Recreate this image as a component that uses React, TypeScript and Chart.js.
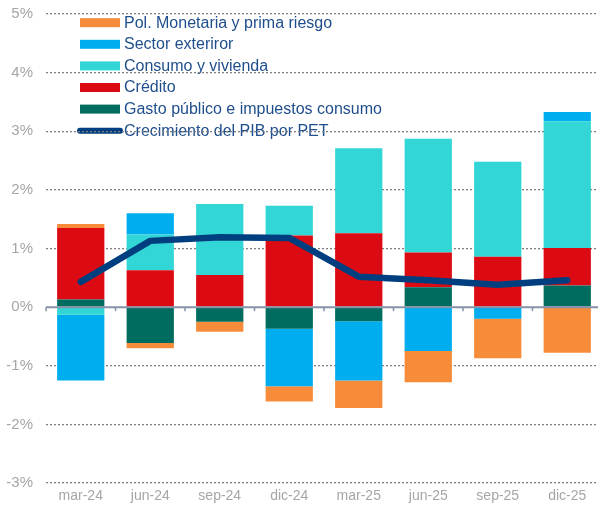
import React, { useEffect, useRef } from "react";
import { Chart, registerables } from "chart.js";

Chart.register(...registerables);

const categories = ["mar-24", "jun-24", "sep-24", "dic-24", "mar-25", "jun-25", "sep-25", "dic-25"];
const gastoPublico = [0.13, -0.61, -0.25, -0.37, -0.24, 0.34, 0.0, 0.37];
const credito = [1.22, 0.63, 0.55, 1.22, 1.26, 0.59, 0.86, 0.64];
const consumoVivienda = [-0.13, 0.61, 1.21, 0.51, 1.45, 1.94, 1.62, 2.16];
const sectorExterior = [-1.12, 0.36, 0.0, -0.98, -1.01, -0.75, -0.2, 0.16];
const polMonetaria = [0.07, -0.09, -0.17, -0.26, -0.47, -0.53, -0.67, -0.78];
const pibPET = [0.43, 1.13, 1.19, 1.18, 0.52, 0.46, 0.38, 0.46];
const yTicks = [-3, -2, -1, 0, 1, 2, 3, 4, 5];

const COLORS = {
  gasto: "#006B5F",
  credito: "#DC0A12",
  consumo: "#33D6D6",
  sector: "#00AEEF",
  pol: "#F68B39",
  line: "#003F7F",
};

const FONT = "'Liberation Sans', Arial, sans-serif";

const legendPlugin = {
  id: "customLegend",
  beforeDraw(chart: any) {
    const ctx = chart.ctx;
    const ds = chart.data.datasets;
    // legend order: Pol, Sector, Consumo, Crédito, Gasto, Línea
    const order = [4, 3, 2, 1, 0, 5];
    const x0 = 80;
    const y0 = 22.7;
    const step = 21.6;
    ctx.save();
    ctx.font = `16px ${FONT}`;
    ctx.textBaseline = "middle";
    ctx.textAlign = "left";
    order.forEach((idx: number, i: number) => {
      const d = ds[idx];
      const yc = y0 + i * step;
      if (d.type === "line") {
        ctx.strokeStyle = d.borderColor;
        ctx.lineWidth = 6;
        ctx.lineCap = "round";
        ctx.beginPath();
        ctx.moveTo(x0, yc);
        ctx.lineTo(x0 + 40, yc);
        ctx.stroke();
      } else {
        ctx.fillStyle = d.backgroundColor;
        ctx.fillRect(x0, yc - 4.5, 40, 9);
      }
      ctx.fillStyle = "#1F4E8C";
      ctx.fillText(d.label, x0 + 44, yc + 0.5);
    });
    ctx.restore();
  },
};

const zeroLinePlugin = {
  id: "zeroLine",
  afterDatasetsDraw(chart: any) {
    const ctx = chart.ctx;
    const y = chart.scales.y.getPixelForValue(0);
    const xs = chart.scales.x;
    const { left, right } = chart.chartArea;
    const w = xs.getPixelForValue(1) - xs.getPixelForValue(0);
    ctx.save();
    ctx.strokeStyle = "#8592A8";
    ctx.lineWidth = 2;
    ctx.beginPath();
    ctx.moveTo(left, y);
    ctx.lineTo(right, y);
    ctx.stroke();
    ctx.lineWidth = 1.5;
    for (let i = 0; i <= categories.length; i++) {
      const x = xs.getPixelForValue(0) - w / 2 + i * w;
      ctx.beginPath();
      ctx.moveTo(x, y);
      ctx.lineTo(x, y + 4);
      ctx.stroke();
    }
    ctx.restore();
  },
};

export default function App() {
  const ref = useRef<HTMLCanvasElement>(null);
  useEffect(() => {
    if (!ref.current) return;
    Chart.defaults.font.family = FONT;
    const bar = (label: string, data: number[], color: string) => ({
      type: "bar" as const,
      label,
      data,
      backgroundColor: color,
      borderWidth: 0,
      stack: "a",
      order: 1,
      barPercentage: 0.68,
      categoryPercentage: 1,
    });
    const chart = new Chart(ref.current, {
      type: "bar",
      data: {
        labels: categories,
        datasets: [
          bar("Gasto público e impuestos consumo", gastoPublico, COLORS.gasto),
          bar("Crédito", credito, COLORS.credito),
          bar("Consumo y vivienda", consumoVivienda, COLORS.consumo),
          bar("Sector exteriror", sectorExterior, COLORS.sector),
          bar("Pol. Monetaria y prima riesgo", polMonetaria, COLORS.pol),
          {
            type: "line" as const,
            label: "Crecimiento del PIB por PET",
            data: pibPET,
            borderColor: COLORS.line,
            backgroundColor: COLORS.line,
            borderWidth: 6.5,
            pointRadius: 0,
            borderCapStyle: "round",
            borderJoinStyle: "round",
            tension: 0,
            stack: "line",
            order: 0,
          } as any,
        ],
      },
      options: {
        animation: false,
        responsive: false,
        devicePixelRatio: 1,
        layout: { autoPadding: false, padding: { top: 14, left: 0, right: 0, bottom: 0 } },
        plugins: {
          legend: { display: false },
          tooltip: { enabled: false },
        },
        scales: {
          x: {
            stacked: true,
            grid: { display: false, drawTicks: false },
            border: { display: false },
            ticks: { color: "#A6A6A6", font: { size: 14, family: FONT }, padding: 5 },
            afterFit: (s: any) => {
              s.height = 25;
            },
          },
          y: {
            stacked: true,
            min: yTicks[0],
            max: yTicks[yTicks.length - 1],
            afterBuildTicks: (s: any) => {
              s.ticks = yTicks.map((v) => ({ value: v }));
            },
            grid: {
              drawTicks: false,
              color: (c: any) => (c.tick && c.tick.value === 0 ? "rgba(0,0,0,0)" : "#7F7F7F"),
              lineWidth: 1.3,
            },
            border: { display: false, dash: [2, 2] },
            ticks: {
              color: "#A6A6A6",
              font: { size: 15, family: FONT },
              padding: 13,
              callback: (v: any) => `${v}%`,
            },
            afterFit: (s: any) => {
              s.width = 46;
              s.paddingTop = 8;
              s.paddingBottom = 8;
            },
          },
        },
      },
      plugins: [legendPlugin, zeroLinePlugin],
    });
    return () => chart.destroy();
  }, []);
  return (
    <div
      style={{
        position: "fixed",
        left: 0,
        top: 0,
        width: 598,
        height: 508,
        overflow: "hidden",
        background: "#fff",
      }}
    >
      <canvas ref={ref} width={602} height={508} style={{ display: "block" }} />
    </div>
  );
}
